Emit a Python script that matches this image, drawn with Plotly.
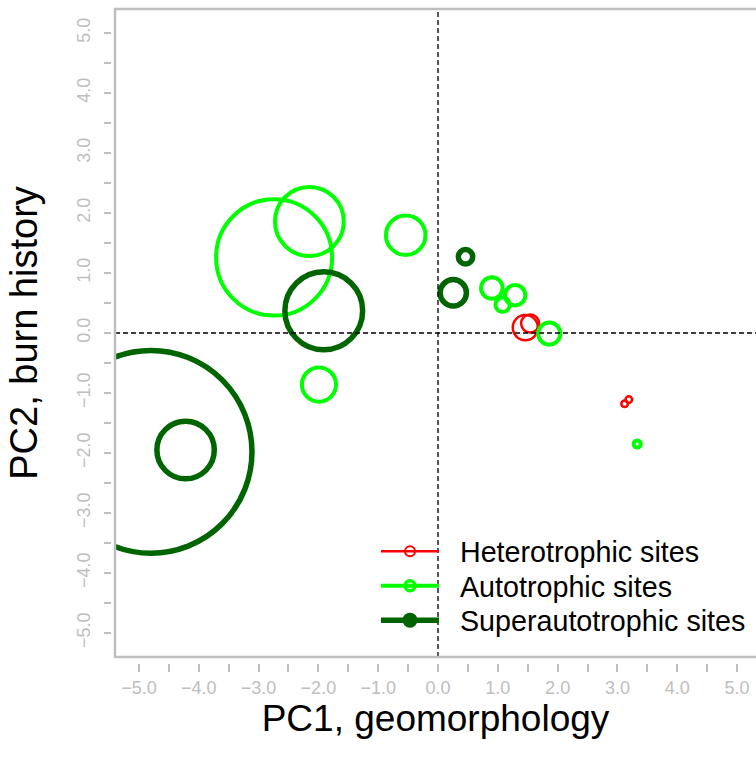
import plotly.graph_objects as go

# Site scores on the first two principal components and circle radius (PC units)
hetero_pc1 = [1.46, 1.54, 3.12, 3.19]
hetero_pc2 = [0.09, 0.16, -1.18, -1.11]
hetero_size = [0.21, 0.15, 0.055, 0.055]

auto_pc1 = [-2.74, -2.15, -0.54, -1.99, 0.90, 1.29, 1.08, 1.86, 3.33]
auto_pc2 = [1.26, 1.86, 1.63, -0.86, 0.75, 0.63, 0.47, -0.01, -1.85]
auto_size = [0.97, 0.575, 0.33, 0.285, 0.18, 0.17, 0.12, 0.185, 0.06]

super_pc1 = [-4.80, -4.22, -1.91, 0.255, 0.46]
super_pc2 = [-1.98, -1.95, 0.37, 0.67, 1.27]
super_size = [1.69, 0.48, 0.65, 0.22, 0.12]

group_names = ["Heterotrophic sites", "Autotrophic sites", "Superautotrophic sites"]
group_colors = ["#FF0000", "#00FF00", "#006400"]
group_widths = [2.5, 4, 5.5]

tick_values = [-5.0, -4.5, -4.0, -3.5, -3.0, -2.5, -2.0, -1.5, -1.0, -0.5, 0.0,
               0.5, 1.0, 1.5, 2.0, 2.5, 3.0, 3.5, 4.0, 4.5, 5.0]
tick_labels = ["−5.0", "", "−4.0", "", "−3.0", "", "−2.0", "", "−1.0", "", "0.0",
               "", "1.0", "", "2.0", "", "3.0", "", "4.0", "", "5.0"]

W, H = 756, 758
ML, MT, MB = 111, 9, 95
paper_w = W - ML
paper_h = H - MT - MB
x_dom0 = 4 / paper_w
y_dom0 = 6 / paper_h

FONT = "Liberation Sans, Arial, sans-serif"
AXIS_GRAY = "#BEBEBE"

fig = go.Figure()

groups = [
    (hetero_pc1, hetero_pc2, hetero_size),
    (auto_pc1, auto_pc2, auto_size),
    (super_pc1, super_pc2, super_size),
]

shapes = []
for (xs, ys, rs), color, lw in zip(groups, group_colors, group_widths):
    for cx, cy, r in zip(xs, ys, rs):
        shapes.append(dict(
            type="circle", xref="x", yref="y",
            x0=cx - r, x1=cx + r, y0=cy - r, y1=cy + r,
            line=dict(color=color, width=lw), fillcolor="rgba(0,0,0,0)",
        ))

# reference lines through the origin
shapes.append(dict(type="line", xref="x", yref="paper", x0=0, x1=0, y0=y_dom0, y1=1,
                   line=dict(color="black", width=1.3, dash="5px,3px")))
shapes.append(dict(type="line", xref="paper", yref="y", x0=x_dom0, x1=1, y0=0, y1=0,
                   line=dict(color="black", width=1.3, dash="5px,3px")))
# plot frame
shapes.append(dict(type="rect", xref="paper", yref="paper", x0=x_dom0, x1=1.05,
                   y0=y_dom0, y1=1, line=dict(color=AXIS_GRAY, width=2.5),
                   fillcolor="rgba(0,0,0,0)"))

# one legend box per site type, stacked as rows
legend_ids = ["legend", "legend2", "legend3"]
row_centers_px = [551.5, 586, 620.5]
for name, color, lw, lid in zip(group_names, group_colors, group_widths, legend_ids):
    fig.add_trace(go.Scatter(
        x=[None], y=[None], mode="lines+markers", name="\u00a0\u00a0" + name, legend=lid,
        line=dict(color=color, width=lw),
        marker=dict(symbol="circle-open", size=10, color=color,
                    line=dict(width=lw - 0.5, color=color)),
    ))

legend_common = dict(
    xanchor="left", yanchor="middle",
    bgcolor="rgba(0,0,0,0)", borderwidth=0,
    font=dict(family=FONT, size=28.7, color="black"),
    itemwidth=58,
)
legend_layout = {}
for lid, cy in zip(legend_ids, row_centers_px):
    legend_layout[lid] = dict(legend_common, x=(376 - ML) / paper_w,
                              y=(H - MB - cy) / paper_h)

x_per_unit = (438 - 115) / 5.4
x_right = (W - 438) / x_per_unit

fig.update_layout(
    width=W, height=H,
    margin=dict(l=ML, r=0, t=MT, b=MB, pad=0),
    paper_bgcolor="white", plot_bgcolor="white",
    shapes=shapes,
    showlegend=True,
    **legend_layout,
    xaxis=dict(
        domain=[x_dom0, 1], range=[-5.4, x_right],
        anchor="free", position=0,
        showline=False, showgrid=False, zeroline=False,
        tickmode="array", tickvals=tick_values, ticktext=tick_labels,
        ticks="outside", ticklen=8, tickwidth=1.5, tickcolor=AXIS_GRAY,
        tickfont=dict(family=FONT, size=18, color=AXIS_GRAY),
        title=dict(text="PC1, geomorphology", font=dict(family=FONT, size=37, color="black"),
                   standoff=5),
    ),
    yaxis=dict(
        domain=[y_dom0, 1], range=[-5.4, 5.4],
        anchor="free", position=0,
        showline=False, showgrid=False, zeroline=False,
        tickmode="array", tickvals=tick_values, ticktext=tick_labels,
        ticks="outside", ticklen=7, tickwidth=1.5, tickcolor=AXIS_GRAY,
        tickangle=-90, ticklabelstandoff=7,
        tickfont=dict(family=FONT, size=18, color=AXIS_GRAY),
        title=dict(text="PC2, burn history", font=dict(family=FONT, size=38, color="black"),
                   standoff=23),
    ),
)

fig.write_html("out.html")
